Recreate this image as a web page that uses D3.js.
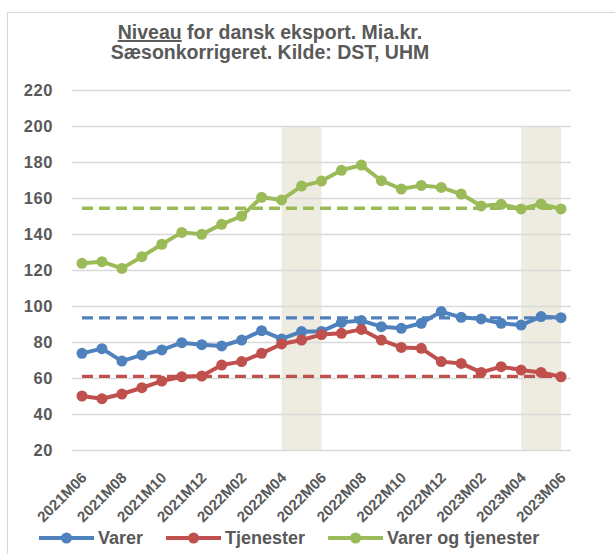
<!DOCTYPE html>
<html>
<head>
<meta charset="utf-8">
<script src="https://cdn.jsdelivr.net/npm/d3@7"></script>
<style>
  body { margin: 0; background: #fff; }
  svg text { font-family: "Liberation Sans", Arial, sans-serif; font-weight: bold; fill: #595959; }
</style>
</head>
<body>
<div id="chart"></div>
<script>
    // months on the x axis
    var months = ["2021M06", "2021M07", "2021M08", "2021M09", "2021M10", "2021M11", "2021M12",
        "2022M01", "2022M02", "2022M03", "2022M04", "2022M05", "2022M06", "2022M07", "2022M08",
        "2022M09", "2022M10", "2022M11", "2022M12", "2023M01", "2023M02", "2023M03", "2023M04",
        "2023M05", "2023M06"];

    var varer = [73.7, 76.3, 69.4, 72.8, 75.6, 79.6, 78.5, 77.8, 81.1, 86.3, 81.7, 85.8, 85.9,
        90.9, 91.9, 88.5, 87.6, 90.4, 96.9, 93.7, 92.8, 90.4, 89.4, 94.1, 93.5];
    var tjenester = [50.0, 48.5, 51.1, 54.6, 58.3, 60.7, 61.1, 67.2, 69.1, 73.7, 78.9, 81.1, 84.1,
        84.8, 87.0, 81.1, 77.0, 76.5, 69.1, 68.1, 63.1, 66.3, 64.4, 63.1, 60.7];
    var total = [123.7, 124.6, 120.9, 127.4, 134.3, 140.9, 139.8, 145.4, 150.0, 160.4, 158.9, 166.6,
        169.4, 175.4, 178.3, 169.6, 165.0, 167.0, 165.9, 162.2, 155.6, 156.5, 153.9, 156.7, 153.9];

    // dashed reference levels (latest level)
    var refLevels = [93.4, 60.9, 154.3];

    // shaded periods [from, to]
    var shadeFrom = ["2022M04", "2023M04"];
    var shadeTo = ["2022M06", "2023M06"];
    var shadeTop = 200;

    var seriesNames = ["Varer", "Tjenester", "Varer og tjenester"];
    var seriesColors = ["#4f81bd", "#c0504d", "#9bbb59"];
    var yTicks = [20, 40, 60, 80, 100, 120, 140, 160, 180, 200, 220];

    var width = 615, height = 554;
    var plot = { left: 72, right: 571, top: 90, bottom: 450 };

    var svg = d3.select("#chart").append("svg")
        .attr("width", width)
        .attr("height", height);

    // outer frame
    svg.append("rect")
        .attr("x", 7.5).attr("y", 12.5)
        .attr("width", 640).attr("height", 600)
        .attr("fill", "none")
        .attr("stroke", "#d9d9d9")
        .attr("stroke-width", 1.2);

    var x = d3.scalePoint()
        .domain(months)
        .range([plot.left, plot.right])
        .padding(0.5);

    var y = d3.scaleLinear()
        .domain([20, 220])
        .range([plot.bottom, plot.top]);

    // shaded bands
    svg.selectAll("rect.band")
        .data(shadeFrom)
        .enter().append("rect")
        .attr("class", "band")
        .attr("x", function (d) { return x(d); })
        .attr("width", function (d, i) { return x(shadeTo[i]) - x(d); })
        .attr("y", y(shadeTop))
        .attr("height", y(20) - y(shadeTop))
        .attr("fill", "#eeece1");

    // gridlines + y labels
    var yAxis = svg.append("g")
        .attr("transform", "translate(" + plot.left + ",0)")
        .call(d3.axisLeft(y).tickValues(yTicks).tickSize(-(plot.right - plot.left)).tickPadding(19));
    yAxis.select(".domain").remove();
    yAxis.selectAll(".tick line").attr("stroke", "#d9d9d9").attr("stroke-width", 1.3);
    yAxis.selectAll(".tick text")
        .attr("fill", "#595959")
        .style("font-size", "16.5px")
        .style("letter-spacing", "0.6px")
        .attr("font-family", null);

    // x labels every other month
    svg.selectAll("text.xlab")
        .data(months.filter(function (d, i) { return i % 2 === 0; }))
        .enter().append("text")
        .attr("class", "xlab")
        .attr("transform", function (d) { return "translate(" + (x(d) + 2) + ",475) rotate(-45)"; })
        .attr("text-anchor", "end")
        .attr("dy", "0.35em")
        .style("font-size", "15px")
        .text(function (d) { return d; });

    // dashed reference lines
    svg.selectAll("line.ref")
        .data(refLevels)
        .enter().append("line")
        .attr("class", "ref")
        .attr("x1", x(months[0]))
        .attr("x2", x(months[months.length - 1]))
        .attr("y1", function (d) { return y(d); })
        .attr("y2", function (d) { return y(d); })
        .attr("stroke", function (d, i) { return seriesColors[i]; })
        .attr("stroke-width", 3.3)
        .attr("stroke-dasharray", "11,6");

    // series
    var seriesData = [varer, tjenester, total];
    var line = d3.line()
        .x(function (d, i) { return x(months[i]); })
        .y(function (d) { return y(d); });

    seriesData.forEach(function (vals, s) {
        var g = svg.append("g");
        g.append("path")
            .attr("d", line(vals))
            .attr("fill", "none")
            .attr("stroke", seriesColors[s])
            .attr("stroke-width", 4)
            .attr("stroke-linejoin", "round");
        g.selectAll("circle")
            .data(vals)
            .enter().append("circle")
            .attr("cx", function (d, i) { return x(months[i]); })
            .attr("cy", function (d) { return y(d); })
            .attr("r", 5.5)
            .attr("fill", seriesColors[s]);
    });

    // title
    var title = svg.append("text")
        .attr("x", 270)
        .attr("y", 39)
        .attr("text-anchor", "middle")
        .style("font-size", "19.5px");
    title.append("tspan").style("text-decoration", "underline").text("Niveau");
    title.append("tspan").text(" for dansk eksport. Mia.kr.");
    svg.append("text")
        .attr("x", 270)
        .attr("y", 59)
        .attr("text-anchor", "middle")
        .style("font-size", "19.5px")
        .text("Sæsonkorrigeret. Kilde: DST, UHM");

    // legend
    var lx = 39, ly = 538;
    seriesNames.forEach(function (name, i) {
        var g = svg.append("g").attr("transform", "translate(" + lx + "," + ly + ")");
        g.append("line")
            .attr("x1", 0).attr("x2", 55)
            .attr("stroke", seriesColors[i])
            .attr("stroke-width", 4);
        g.append("circle")
            .attr("cx", 27.5).attr("r", 5.5)
            .attr("fill", seriesColors[i]);
        var t = g.append("text")
            .attr("x", 59)
            .attr("dy", "0.36em")
            .style("font-size", "18px")
            .text(name);
        lx += 59 + t.node().getComputedTextLength() + 23;
    });
</script>
</body>
</html>
